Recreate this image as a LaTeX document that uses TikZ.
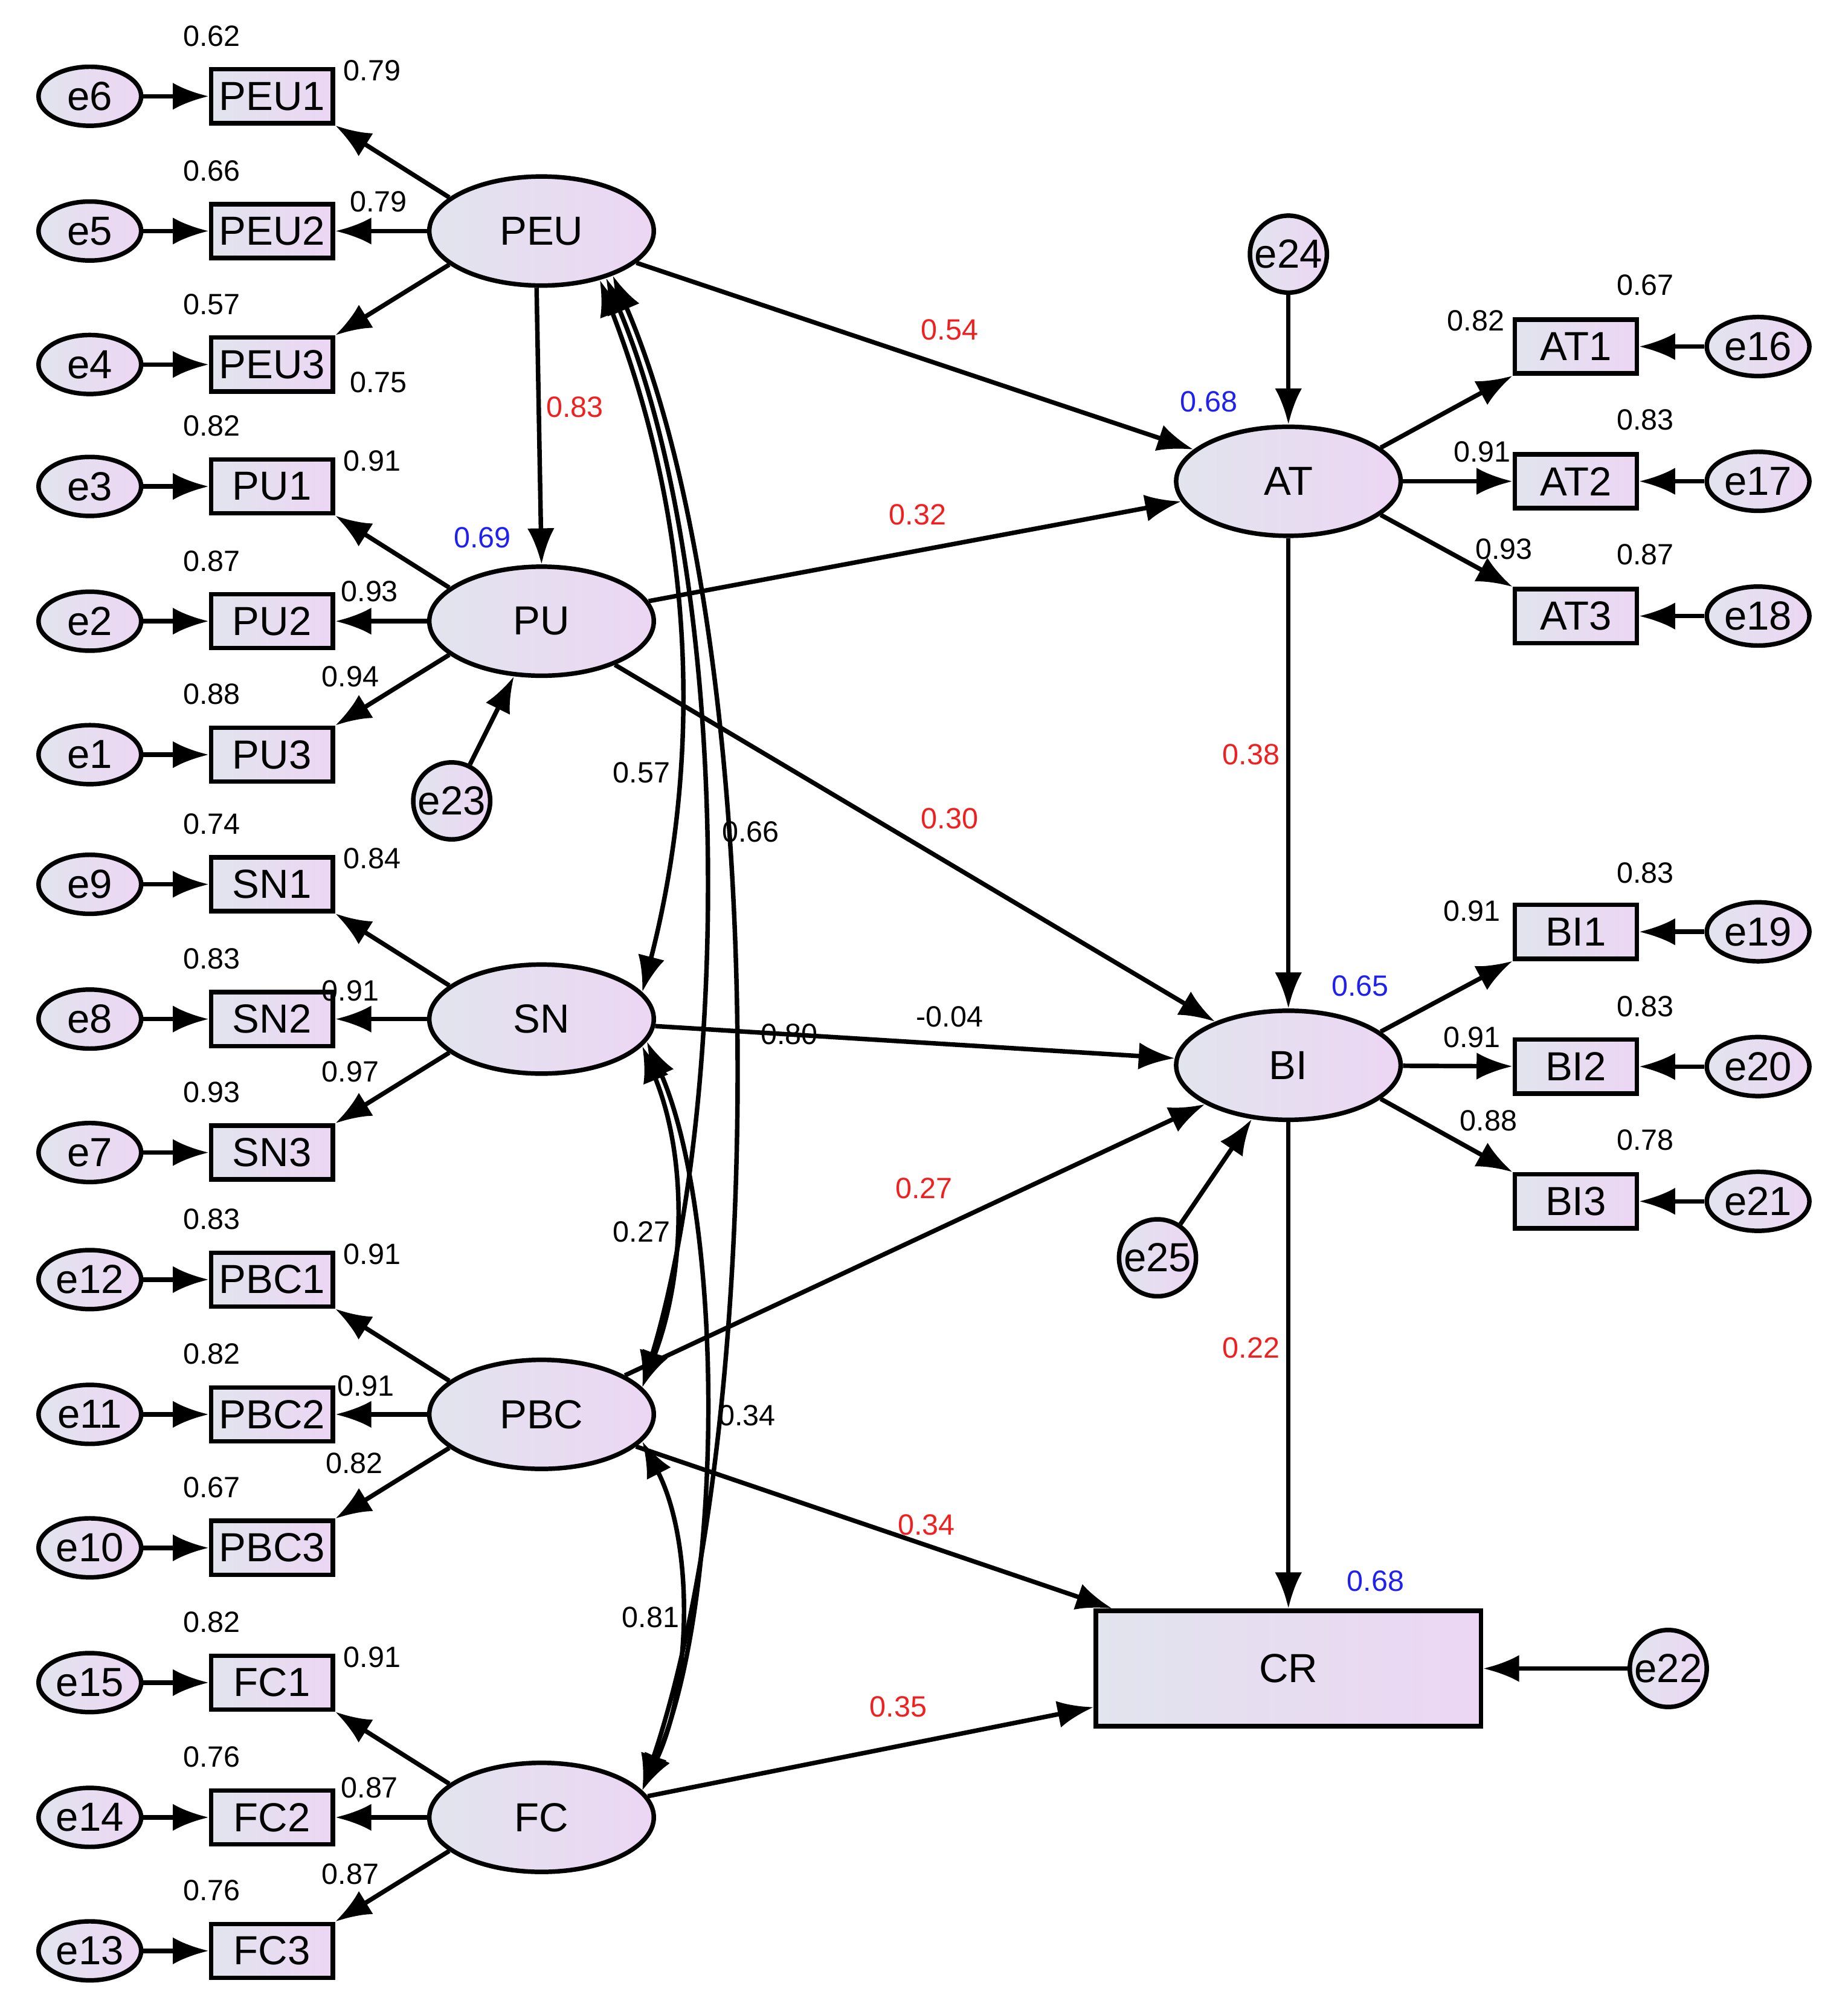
\documentclass[tikz,border=0pt]{standalone}
\usepackage{fontspec}
\setmainfont{Liberation Sans}
\usetikzlibrary{arrows.meta,shapes.geometric}
\definecolor{fa}{HTML}{E2E4EE}
\definecolor{fb}{HTML}{ECD6F3}
\definecolor{rd}{HTML}{F02020}
\definecolor{bl}{HTML}{2020F0}
\begin{document}
\begin{tikzpicture}[x=0.02cm,y=-0.02cm,
  every path/.style={line width=2pt},
  >={Latex[length=16pt,width=12pt]},
  lat/.style={ellipse,draw,left color=fa,right color=fb,minimum width=3.5cm,minimum height=1.7cm,font=\fontsize{18}{18}\selectfont},
  err/.style={ellipse,draw,left color=fa,right color=fb,minimum width=1.6cm,minimum height=0.92cm,inner sep=0pt,font=\fontsize{18}{18}\selectfont},
  cerr/.style={circle,draw,left color=fa,right color=fb,minimum size=1.2cm,inner sep=0pt,font=\fontsize{18}{18}\selectfont},
  ind/.style={rectangle,draw,left color=fa,right color=fb,minimum width=1.9cm,minimum height=0.84cm,inner sep=0pt,font=\fontsize{18}{18}\selectfont},
  lb/.style={font=\fontsize{13}{13}\selectfont,inner sep=1pt},
  rl/.style={lb,text=rd},
  bll/.style={lb,text=bl}]
\useasboundingbox (0,0) rectangle (1440,1570);
\foreach \L/\ly/\bA/\bB/\bC/\eA/\eB/\eC/\rA/\rB/\rC/\lA/\lB/\lC/\mx/\my/\bx/\by in {
 PEU/180/PEU1/PEU2/PEU3/e6/e5/e4/0.62/0.66/0.57/0.79/0.79/0.75/295/157/295/298,
 PU/484/PU1/PU2/PU3/e3/e2/e1/0.82/0.87/0.88/0.91/0.93/0.94/288/461/273/527,
 SN/794/SN1/SN2/SN3/e9/e8/e7/0.74/0.83/0.93/0.84/0.91/0.97/273/772/273/835,
 PBC/1102/PBC1/PBC2/PBC3/e12/e11/e10/0.83/0.82/0.67/0.91/0.91/0.82/285/1080/276/1140,
 FC/1416/FC1/FC2/FC3/e15/e14/e13/0.82/0.76/0.76/0.91/0.87/0.87/288/1393/273/1460}{
 \node[lat] (\L) at (422,\ly) {\L};
 \node[ind] (\bA) at (212,\ly-105) {\bA};
 \node[ind] (\bB) at (212,\ly) {\bB};
 \node[ind] (\bC) at (212,\ly+104) {\bC};
 \node[err] (\eA) at (70,\ly-105) {\eA};
 \node[err] (\eB) at (70,\ly) {\eB};
 \node[err] (\eC) at (70,\ly+104) {\eC};
 \draw[->] (\eA) -- (\bA); \draw[->] (\eB) -- (\bB); \draw[->] (\eC) -- (\bC);
 \draw[->] (\L.160) -- (\bA.south east); \draw[->] (\L) -- (\bB); \draw[->] (\L.200) -- (\bC.north east);
 \node[lb] at (165,\ly-152) {\rA};
 \node[lb] at (165,\ly-47) {\rB};
 \node[lb] at (165,\ly+57) {\rC};
 \node[lb] at (290,\ly-125) {\lA};
 \node[lb] at (\mx,\my) {\lB};
 \node[lb] at (\bx,\by) {\lC};
}
\node[lat] (AT) at (1004,375) {AT};
\node[lat] (BI) at (1004,830) {BI};
\node[rectangle,draw,left color=fa,right color=fb,minimum width=6cm,minimum height=1.8cm,font=\fontsize{18}{18}\selectfont] (CR) at (1004,1300) {CR};
\node[cerr] (e24) at (1004,198) {e24};
\node[cerr] (e23) at (352,624) {e23};
\node[cerr] (e25) at (902,980) {e25};
\node[cerr] (e22) at (1300,1300) {e22};
\draw[->] (e24) -- (AT); \draw[->] (e23) -- (PU); \draw[->] (e25) -- (BI); \draw[->] (e22) -- (CR);
\foreach \L/\ly/\bA/\bB/\bC/\eA/\eB/\eC in {AT/375/AT1/AT2/AT3/e16/e17/e18, BI/831/BI1/BI2/BI3/e19/e20/e21}{
 \node[ind] (\bA) at (1228,\ly-105) {\bA};
 \node[ind] (\bB) at (1228,\ly) {\bB};
 \node[ind] (\bC) at (1228,\ly+105) {\bC};
 \node[err] (\eA) at (1370,\ly-105) {\eA};
 \node[err] (\eB) at (1370,\ly) {\eB};
 \node[err] (\eC) at (1370,\ly+105) {\eC};
 \draw[->] (\eA) -- (\bA); \draw[->] (\eB) -- (\bB); \draw[->] (\eC) -- (\bC);
 \draw[->] (\L.20) -- (\bA.south west); \draw[->] (\L) -- (\bB); \draw[->] (\L.-20) -- (\bC.north west);
}
\node[lb] at (1282,222) {0.67}; \node[lb] at (1150,250) {0.82};
\node[lb] at (1282,327) {0.83}; \node[lb] at (1155,352) {0.91};
\node[lb] at (1282,432) {0.87}; \node[lb] at (1172,428) {0.93};
\node[lb] at (1282,680) {0.83}; \node[lb] at (1147,710) {0.91};
\node[lb] at (1282,784) {0.83}; \node[lb] at (1147,808) {0.91};
\node[lb] at (1282,888) {0.78}; \node[lb] at (1160,873) {0.88};
\draw[->] (PEU) -- (AT);
\draw[->] (PU) -- (AT);
\draw[->] (PEU.-95) -- (PU.north);
\draw[->] (PU) -- (BI);
\draw[->] (SN) -- (BI);
\draw[->] (PBC) -- (BI);
\draw[->] (AT) -- (BI);
\draw[->] (BI) -- (CR);
\draw[->] (PBC) -- (CR);
\draw[->] (FC) -- (CR);
\node[rl] at (740,257) {0.54};
\node[rl] at (715,401) {0.32};
\node[rl] at (448,317) {0.83};
\node[rl] at (740,638) {0.30};
\node[lb] at (740,792) {-0.04};
\node[rl] at (720,926) {0.27};
\node[rl] at (975,588) {0.38};
\node[rl] at (975,1050) {0.22};
\node[rl] at (722,1188) {0.34};
\node[rl] at (700,1330) {0.35};
\node[bll] at (376,419) {0.69};
\node[bll] at (942,313) {0.68};
\node[bll] at (1060,768) {0.65};
\node[bll] at (1072,1232) {0.68};
% covariances
\draw[<->] (PEU.-40) .. controls (545,420) and (545,600) .. (SN.15);
\draw[<->] (PEU.-36) .. controls (570,450) and (570,850) .. (PBC.15);
\draw[<->] (PEU.-32) .. controls (600,500) and (600,1100) .. (FC.15);
\draw[<->] (SN.-15) .. controls (535,900) and (535,990) .. (PBC.15);
\draw[<->] (SN.-12) .. controls (565,950) and (565,1250) .. (FC.15);
\draw[<->] (PBC.-15) .. controls (540,1200) and (540,1310) .. (FC.15);
\node[lb] at (500,602) {0.57};
\node[lb] at (585,648) {0.66};
\node[lb] at (500,960) {0.27};
\node[lb] at (615,806) {0.80};
\node[lb] at (582,1103) {0.34};
\node[lb] at (507,1260) {0.81};
\end{tikzpicture}
\end{document}
